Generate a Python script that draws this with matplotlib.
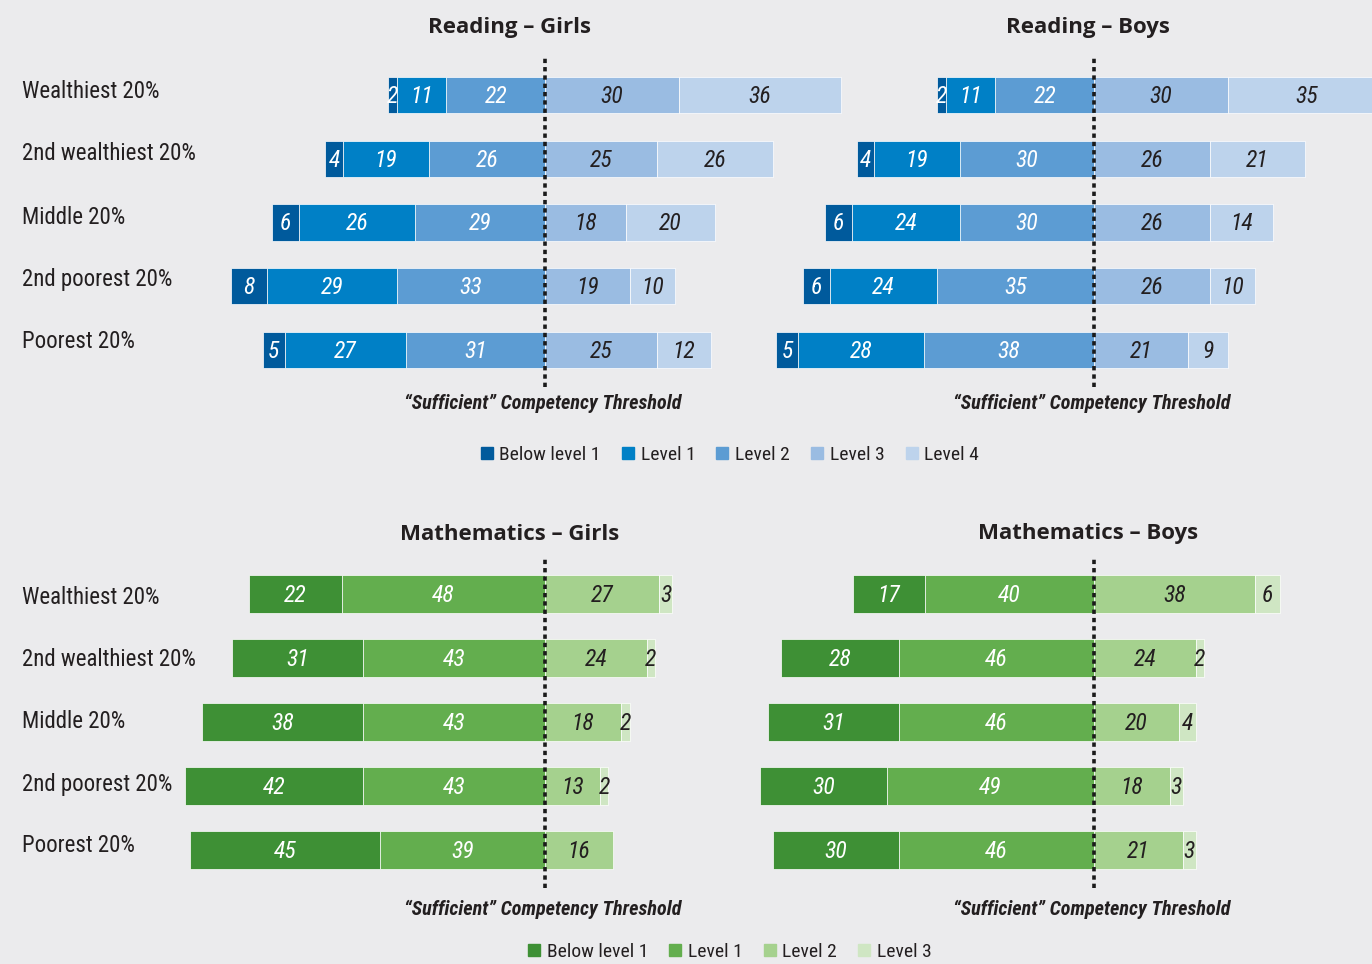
import matplotlib
matplotlib.use('Agg')
import matplotlib.pyplot as plt
from matplotlib import font_manager
from matplotlib.lines import Line2D

# pick a condensed face if one is installed
fonts = font_manager.fontManager.ttflist
names = {f.name for f in fonts}
COND = {'family': 'Lato'}
for n in ['Roboto Condensed', 'Liberation Sans Narrow', 'Open Sans Condensed', 'Noto Sans Condensed']:
    if n in names:
        COND = {'family': n}
        break
else:
    if any(f.name == 'DejaVu Sans' and str(f.stretch) in ('condensed', 'semi-condensed') for f in fonts):
        COND = {'family': 'DejaVu Sans', 'stretch': 'condensed'}
NARROW = COND['family'] != 'Lato'
BOLD = 'Open Sans' if 'Open Sans' in names else 'DejaVu Sans'

BG = '#EBEBED'
TXT = '#231F20'

groups = ["Wealthiest 20%", "2nd wealthiest 20%", "Middle 20%", "2nd poorest 20%", "Poorest 20%"]

reading_levels = ["Below level 1", "Level 1", "Level 2", "Level 3", "Level 4"]
reading_colors = ['#005A9C', '#0080C6', '#5C9CD3', '#9ABCE2', '#BDD3EC']
reading_girls_below = [2, 4, 6, 8, 5]
reading_girls_l1 = [11, 19, 26, 29, 27]
reading_girls_l2 = [22, 26, 29, 33, 31]
reading_girls_l3 = [30, 25, 18, 19, 25]
reading_girls_l4 = [36, 26, 20, 10, 12]
reading_boys_below = [2, 4, 6, 6, 5]
reading_boys_l1 = [11, 19, 24, 24, 28]
reading_boys_l2 = [22, 30, 30, 35, 38]
reading_boys_l3 = [30, 26, 26, 26, 21]
reading_boys_l4 = [35, 21, 14, 10, 9]

math_levels = ["Below level 1", "Level 1", "Level 2", "Level 3"]
math_colors = ['#3E9035', '#63AE4E', '#A5D18E', '#CFE6C3']
math_girls_below = [22, 31, 38, 42, 45]
math_girls_l1 = [48, 43, 43, 43, 39]
math_girls_l2 = [27, 24, 18, 13, 16]
math_girls_l3 = [3, 2, 2, 2, 0]
math_boys_below = [17, 28, 31, 30, 30]
math_boys_l1 = [40, 46, 46, 49, 46]
math_boys_l2 = [38, 24, 20, 18, 21]
math_boys_l3 = [6, 2, 4, 3, 3]

# sizes depend on how narrow the face is
LBL = 16.5 if NARROW else 14
VAL = 17 if NARROW else 14.5
THR = 14.5 if NARROW else 12.5
LEG = 14 if NARROW else 13

W, H = 1372, 964
fig = plt.figure(figsize=(W / 100, H / 100), dpi=100)
fig.patch.set_facecolor(BG)


def px_axes(x0, x1, y0, y1):
    # pixel box (top-left origin) -> figure axes
    ax = fig.add_axes([x0 / W, 1 - y1 / H, (x1 - x0) / W, (y1 - y0) / H])
    ax.set_facecolor('none')
    ax.axis('off')
    return ax


def draw_panel(ax, left, right, colors, n_white, scale, thr_px, width_px, height, ylim):
    ax.set_xlim(-thr_px / scale, (width_px - thr_px) / scale)
    ax.set_ylim(*ylim)
    for i in range(len(groups)):
        segs = []
        pos = 0
        for k in range(len(left) - 1, -1, -1):
            v = left[k][i]
            segs.append((pos - v, v, k))
            pos -= v
        pos = 0
        for k in range(len(right)):
            v = right[k][i]
            segs.append((pos, v, len(left) + k))
            pos += v
        for start, v, k in segs:
            if v == 0:
                continue
            ax.barh(i, v, left=start, height=height, color=colors[k],
                    edgecolor='white', linewidth=0.5)
            ax.text(start + v / 2, i + 0.02, str(v), ha='center', va='center',
                    style='italic', fontsize=VAL,
                    color='white' if k < n_white else TXT, **COND)
    ax.axvline(0, color='#1a1a1a', linestyle=(0, (1.2, 1.1)), linewidth=2.6)


# reading row
r_ylim = (4.58, -0.627)
ax_rg = px_axes(150, 880, 55, 387)
draw_panel(ax_rg, [reading_girls_below, reading_girls_l1, reading_girls_l2],
           [reading_girls_l3, reading_girls_l4], reading_colors, 3, 4.48, 545 - 150, 730, 0.565, r_ylim)
ax_rb = px_axes(700, 1372, 55, 387)
draw_panel(ax_rb, [reading_boys_below, reading_boys_l1, reading_boys_l2],
           [reading_boys_l3, reading_boys_l4], reading_colors, 3, 4.48, 1094 - 700, 672, 0.565, r_ylim)

# math row
m_ylim = (4.59, -0.578)
ax_mg = px_axes(150, 880, 557, 888)
draw_panel(ax_mg, [math_girls_below, math_girls_l1], [math_girls_l2, math_girls_l3],
           math_colors, 2, 4.23, 545 - 150, 730, 0.59, m_ylim)
ax_mb = px_axes(700, 1372, 557, 888)
draw_panel(ax_mb, [math_boys_below, math_boys_l1], [math_boys_l2, math_boys_l3],
           math_colors, 2, 4.23, 1094 - 700, 672, 0.59, m_ylim)

# category labels (left column, pixel rows as in the layout)
for rows in ([91, 154, 217, 279, 341], [597, 659, 722, 784, 846]):
    for g, y in zip(groups, rows):
        fig.text(22 / W, 1 - y / H, g, ha='left', va='center',
                 fontsize=LBL, color=TXT, **COND)

# titles
titles = [("Reading – Girls", 510, 27), ("Reading – Boys", 1088, 27),
          ("Mathematics – Girls", 510, 534), ("Mathematics – Boys", 1088, 534)]
for t, x, y in titles:
    fig.text(x / W, 1 - y / H, t, ha='center', va='center', family=BOLD,
             weight='bold', fontsize=16, color=TXT)

# threshold labels
for x, y in [(543, 403), (1092, 403), (543, 909), (1092, 909)]:
    fig.text(x / W, 1 - y / H, "\u201cSufficient\u201d Competency Threshold", ha='center',
             va='center', weight='bold', style='italic', fontsize=THR, color=TXT, **COND)


def legend(levels, colors, y):
    handles = [Line2D([], [], marker='s', linestyle='none', markersize=8,
                      markerfacecolor=c, markeredgecolor=c) for c in colors]
    prop = dict(COND)
    prop['size'] = LEG
    fig.legend(handles, levels, loc='center', bbox_to_anchor=(728 / W, 1 - y / H),
               ncol=len(levels), frameon=False, handletextpad=0.15, columnspacing=0.9,
               handlelength=1.0, prop=prop, labelcolor=TXT)


legend(reading_levels, reading_colors, 455)
legend(math_levels, math_colors, 952)

fig.savefig('out.png', dpi=100, facecolor=BG)
